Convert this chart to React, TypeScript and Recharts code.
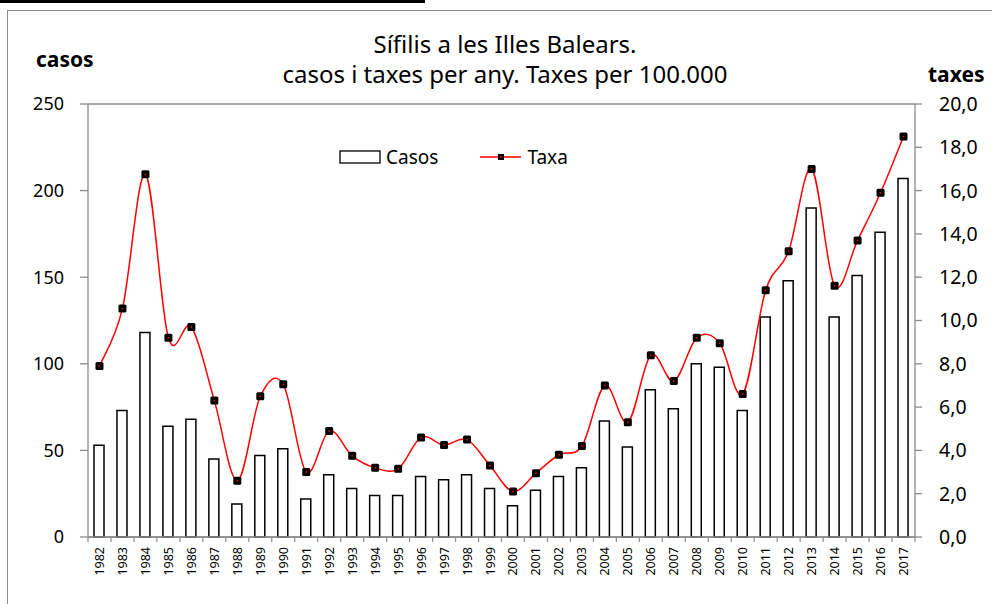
import { ComposedChart, Bar, Line, XAxis, YAxis, CartesianGrid } from 'recharts';

// Sífilis a les Illes Balears — casos (bars) and taxa per 100.000 (line)
const years = [
  '1982', '1983', '1984', '1985', '1986', '1987', '1988', '1989', '1990', '1991', '1992', '1993',
  '1994', '1995', '1996', '1997', '1998', '1999', '2000', '2001', '2002', '2003', '2004', '2005',
  '2006', '2007', '2008', '2009', '2010', '2011', '2012', '2013', '2014', '2015', '2016', '2017',
];

const casos = [
  53, 73, 118, 64, 68, 45, 19, 47, 51, 22, 36, 28,
  24, 24, 35, 33, 36, 28, 18, 27, 35, 40, 67, 52,
  85, 74, 100, 98, 73, 127, 148, 190, 127, 151, 176, 207,
];

const taxa = [
  7.9, 10.55, 16.75, 9.2, 9.7, 6.3, 2.6, 6.5, 7.05, 3.0, 4.9, 3.75,
  3.2, 3.15, 4.6, 4.25, 4.5, 3.3, 2.1, 2.95, 3.8, 4.2, 7.0, 5.3,
  8.4, 7.2, 9.2, 8.95, 6.6, 11.4, 13.2, 17.0, 11.6, 13.7, 15.9, 18.5,
];

const leftTicks = [0, 50, 100, 150, 200, 250];
const rightTicks = [0, 2, 4, 6, 8, 10, 12, 14, 16, 18, 20];

const data = years.map((year, i) => ({ year, casos: casos[i], taxa: taxa[i] }));

const FONT = '"Noto Sans", "Open Sans", sans-serif';
const GRAY = '#8c8c8c';

// Excel-like smoothed line (Catmull-Rom through the points)
function smoothCurve(context: any) {
  let pts: number[][] = [];
  return {
    areaStart() {},
    areaEnd() {},
    lineStart() {
      pts = [];
    },
    point(x: number, y: number) {
      pts.push([+x, +y]);
    },
    lineEnd() {
      if (!pts.length) return;
      context.moveTo(pts[0][0], pts[0][1]);
      for (let i = 0; i < pts.length - 1; i++) {
        const p0 = pts[i - 1] || pts[i];
        const p1 = pts[i];
        const p2 = pts[i + 1];
        const p3 = pts[i + 2] || p2;
        context.bezierCurveTo(
          p1[0] + (p2[0] - p0[0]) / 6,
          p1[1] + (p2[1] - p0[1]) / 6,
          p2[0] - (p3[0] - p1[0]) / 6,
          p2[1] - (p3[1] - p1[1]) / 6,
          p2[0],
          p2[1],
        );
      }
    },
  };
}

const SquareDot = (props: any) => {
  const { cx, cy, index } = props;
  if (cx == null || cy == null) return null;
  return (
    <g key={`dot-${index}`}>
      <rect x={cx - 4} y={cy - 4} width={8} height={8} rx={1.5} fill="#000" />
      <rect x={cx - 0.75} y={cy - 0.75} width={1.5} height={1.5} fill="#ff0000" />
    </g>
  );
};

const YearTick = (props: any) => {
  const { x, y, payload } = props;
  const half = payload && payload.offset ? payload.offset : 827 / 36 / 2;
  return (
    <g>
      <line x1={x - half} y1={y} x2={x - half} y2={y + 5} stroke={GRAY} strokeWidth={1.2} />
      {payload.index === years.length - 1 && (
        <line x1={x + half} y1={y} x2={x + half} y2={y + 5} stroke={GRAY} strokeWidth={1.2} />
      )}
      <text
        x={x}
        y={y + 10}
        dy="0.36em"
        transform={`rotate(-90, ${x}, ${y + 10})`}
        textAnchor="end"
        fontSize={12.5}
        fontFamily={FONT}
        fill="#000"
      >
        {payload.value}
      </text>
    </g>
  );
};

const ChartLegend = () => (
  <div style={{ display: 'flex', alignItems: 'center', fontFamily: FONT, fontSize: 19, lineHeight: '26px', color: '#000' }}>
    <svg width={42} height={26} style={{ display: 'block' }}>
      <rect x={1} y={7} width={40} height={12} fill="#fff" stroke="#000" strokeWidth={1.3} />
    </svg>
    <span style={{ marginLeft: 5, whiteSpace: 'nowrap' }}>Casos</span>
    <svg width={42} height={26} style={{ display: 'block', marginLeft: 42 }}>
      <line x1={0} y1={13} x2={41} y2={13} stroke="#ff0000" strokeWidth={1.5} />
      <rect x={18} y={10} width={6} height={6} fill="#000" />
      <rect x={20.25} y={12.25} width={1.5} height={1.5} fill="#ff0000" />
    </svg>
    <span style={{ marginLeft: 5, whiteSpace: 'nowrap' }}>Taxa</span>
  </div>
);

export default function App() {
  return (
    <div style={{ position: 'absolute', left: 0, top: 0, width: 992, height: 604, background: '#fff', overflow: 'hidden' }}>
      <div style={{ position: 'absolute', left: 0, top: 0, width: 425, height: 3, background: '#000' }} />
      <div
        style={{
          position: 'absolute',
          left: 7,
          top: 10,
          width: 1000,
          height: 700,
          border: `1.5px solid ${GRAY}`,
        }}
      />
      <div style={{ position: 'absolute', left: 0, top: 0 }}>
        <ComposedChart width={992} height={604} data={data} margin={{ top: 104, right: 0, left: 0, bottom: 0 }}>
          <text x={505} y={53} textAnchor="middle" fontSize={24} fontFamily={FONT} fill="#000">
            Sífilis a les Illes Balears.
          </text>
          <text x={505} y={83} textAnchor="middle" fontSize={24} fontFamily={FONT} fill="#000">
            casos i taxes per any. Taxes per 100.000
          </text>
          <text x={36} y={67} fontSize={21} fontWeight="bold" fontFamily={FONT} fill="#000">casos</text>
          <text x={928} y={82} fontSize={21} fontWeight="bold" fontFamily={FONT} fill="#000">taxes</text>
          <CartesianGrid vertical={false} stroke={GRAY} strokeWidth={1.3} />
          <XAxis
            dataKey="year"
            xAxisId="x"
            height={67}
            interval={0}
            tickSize={0}
            tickMargin={0}
            tickLine={false}
            axisLine={{ stroke: GRAY, strokeWidth: 1.3 }}
            tick={<YearTick />}
          />
          <YAxis
            yAxisId="left"
            width={88}
            domain={[0, 250]}
            ticks={leftTicks}
            tickSize={8}
            tickMargin={16}
            axisLine={{ stroke: GRAY, strokeWidth: 1.3 }}
            tickLine={{ stroke: GRAY, strokeWidth: 1.3 }}
            tick={{ fontSize: 18, fontFamily: FONT, fill: '#000' }}
          />
          <YAxis
            yAxisId="right"
            orientation="right"
            width={77}
            domain={[0, 20]}
            ticks={rightTicks}
            tickFormatter={(v: number) => v.toFixed(1).replace('.', ',')}
            tickSize={7}
            tickMargin={17}
            axisLine={{ stroke: GRAY, strokeWidth: 1.3 }}
            tickLine={{ stroke: GRAY, strokeWidth: 1.3 }}
            tick={{ fontSize: 19.5, fontFamily: FONT, fill: '#000' }}
          />
          <Bar
            dataKey="casos"
            name="Casos"
            xAxisId="x"
            yAxisId="left"
            barSize={10}
            fill="#fff"
            stroke="#000"
            strokeWidth={1.5}
            isAnimationActive={false}
          />
          <Line
            dataKey="taxa"
            name="Taxa"
            xAxisId="x"
            yAxisId="right"
            type={smoothCurve as any}
            stroke="#ff0000"
            strokeWidth={1.5}
            dot={<SquareDot />}
            activeDot={false}
            isAnimationActive={false}
          />
        </ComposedChart>
      </div>
      <div style={{ position: 'absolute', left: 339, top: 144 }}>
        <ChartLegend />
      </div>
    </div>
  );
}
